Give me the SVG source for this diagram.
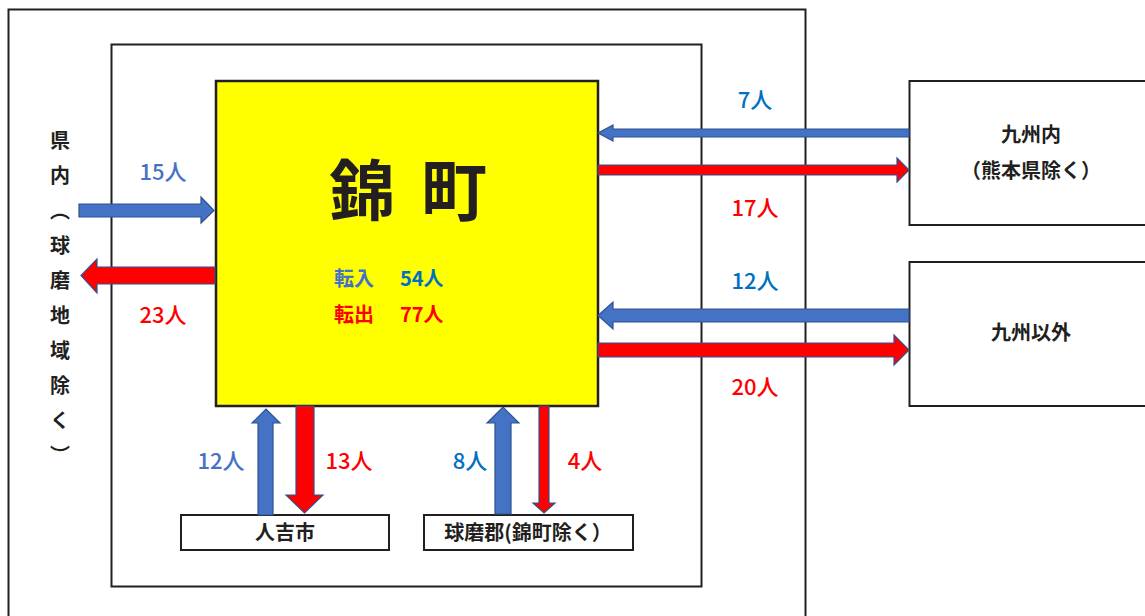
<svg xmlns="http://www.w3.org/2000/svg" width="1145" height="616" viewBox="0 0 1145 616">
<style>
.box{fill:#fff;stroke:#231f20;stroke-width:2}
.t{font-family:"Noto Sans CJK JP","Noto Sans",sans-serif}
.lbl{font-size:20px;font-weight:bold;fill:#231f20;text-anchor:middle}
.num{font-size:22px;font-weight:500;text-anchor:middle}
.b1{fill:#4472c4}
.b2{fill:#0070c0}
.r{fill:#ff0000}
.ab{fill:#4472c4;stroke:#2f528f;stroke-width:1.2}
.ar{fill:#ff0000;stroke:#2f528f;stroke-width:1.2}
</style>
<rect x="0" y="0" width="1145" height="616" fill="#fff"/>
<g id="outer"><rect class="box" x="8.5" y="9.5" width="797" height="620"/></g>
<g id="inner"><rect class="box" x="111.5" y="44.5" width="590" height="542"/></g>
<g id="nishiki">
<rect x="216" y="81" width="382" height="325" fill="#ffff00" stroke="#231f20" stroke-width="2.5"/>
<text class="t" font-size="66" font-weight="bold" fill="#231f20" text-anchor="middle" y="215"><tspan x="362">錦</tspan><tspan x="454">町</tspan></text>
<text class="t" font-size="20" font-weight="bold" y="286"><tspan x="334" fill="#4472c4">転入</tspan><tspan x="400" fill="#0070c0">54人</tspan></text>
<text class="t" font-size="20" font-weight="bold" y="322" fill="#ff0000"><tspan x="334">転出</tspan><tspan x="400">77人</tspan></text>
</g>
<g id="kennai">
<text class="t" x="60" y="130" font-size="20" font-weight="bold" fill="#231f20" style="writing-mode:vertical-rl;letter-spacing:15px">県内（球磨地域除く）</text>
</g>
<g id="kyushu">
<rect class="box" x="909.5" y="81" width="240" height="144"/>
<text class="t lbl" x="1031" y="142">九州内</text>
<text class="t lbl" x="1031" y="178">（熊本県除く）</text>
</g>
<g id="kyushugai">
<rect class="box" x="909.5" y="262" width="240" height="144"/>
<text class="t lbl" x="1031" y="340">九州以外</text>
</g>
<g id="hitoyoshi">
<rect class="box" x="181" y="515" width="208" height="35"/>
<text class="t lbl" x="285" y="540" font-size="21">人吉市</text>
</g>
<g id="kumagun">
<rect class="box" x="424" y="515" width="209" height="35"/>
<text class="t lbl" x="528" y="540">球磨郡(錦町除く）</text>
</g>
<g id="connectors">
<polygon class="ab" points="909,129 613,129 613,125 598,133 613,141 613,137 909,137"/>
<polygon class="ar" points="598,165 897,165 897,158 909,170 897,182 897,175 598,175"/>
<polygon class="ab" points="909,309 613,309 613,302 598,315.5 613,329 613,322 909,322"/>
<polygon class="ar" points="598,343 894,343 894,335 909,350 894,365 894,357 598,357"/>
<polygon class="ab" points="79,204 201,204 201,197 214,210.5 201,223 201,217 79,217"/>
<polygon class="ar" points="215,267 97,267 97,259 81,275.5 97,293 97,284 215,284"/>
<polygon class="ab" points="258,515 258,423 252,423 266,409 280,423 273,423 273,515"/>
<polygon class="ar" points="296,406 314,406 314,495 323,495 304.5,513 286,495 296,495"/>
<polygon class="ab" points="495,514 495,423 487,423 503,407 519,423 511,423 511,514"/>
<polygon class="ar" points="539,406 549,406 549,503 555,503 544,513 533,503 539,503"/>
<text class="t num b2" x="755" y="108">7人</text>
<text class="t num r" x="755" y="216">17人</text>
<text class="t num b2" x="755" y="289">12人</text>
<text class="t num r" x="755" y="395">20人</text>
<text class="t num b1" x="163" y="180">15人</text>
<text class="t num r" x="163" y="323">23人</text>
<text class="t num b1" x="221" y="469">12人</text>
<text class="t num r" x="349" y="469">13人</text>
<text class="t num b2" x="470" y="469">8人</text>
<text class="t num r" x="585" y="469">4人</text>
</g>
</svg>
